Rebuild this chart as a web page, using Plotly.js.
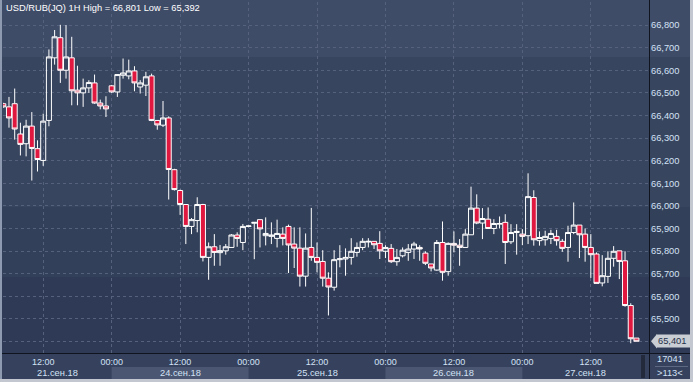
<!DOCTYPE html>
<html>
<head>
<meta charset="utf-8">
<script src="https://cdn.plot.ly/plotly-3.0.1.min.js"></script>
<style>
html,body{margin:0;padding:0;background:#c3c7cf;}
#wrap{position:absolute;left:0;top:0;width:690px;height:379px;
background:linear-gradient(to bottom,#3f4c68 0px,#3f4c68 57px,#38455f 57px,#38455f 207px,#334059 207px,#334059 277px,#2f3b56 277px,#2f3b56 353px,#36425d 353px,#36425d 379px);}
#chart{width:690px;height:379px;}
</style>
</head>
<body>
<div id="wrap"><div id="chart"></div></div>
<script>
// ---- data (USD/RUB 1H) ----
const sessions = [
  {date:'2018-09-21', from:5, to:23},
  {date:'2018-09-24', from:0, to:23},
  {date:'2018-09-25', from:0, to:23},
  {date:'2018-09-26', from:0, to:23},
  {date:'2018-09-27', from:0, to:20}
];
const dayLabels = ['21.сен.18','24.сен.18','25.сен.18','26.сен.18','27.сен.18'];
const yTickVals = [65.4,65.5,65.6,65.7,65.8,65.9,66.0,66.1,66.2,66.3,66.4,66.5,66.6,66.7,66.8];
const yTickText = ['','65,500','65,600','65,700','65,800','65,900','66,000','66,100','66,200','66,300','66,400','66,500','66,600','66,700','66,800'];
const xTickHours = ['12:00','00:00'];

const open = [66.452,66.438,66.452,66.318,66.275,66.353,66.253,66.201,66.378,66.655,
66.744,66.600,66.655,66.512,66.500,66.522,66.544,66.455,66.442,66.531,
66.504,66.578,66.575,66.597,66.526,66.534,66.575,66.378,66.357,66.389,
66.160,66.068,66.006,65.909,65.935,66.006,65.772,65.819,65.793,65.801,
65.816,65.871,65.838,65.909,65.923,65.939,65.868,65.865,65.856,65.875,
65.909,65.831,65.813,65.689,65.816,65.772,65.754,65.680,65.640,65.762,
65.765,65.772,65.794,65.816,65.840,65.843,65.834,65.799,65.812,65.753,
65.779,65.794,65.809,65.816,65.791,65.743,65.716,65.838,65.709,65.834,
65.826,65.816,65.872,65.990,65.924,65.941,65.900,65.919,65.927,65.841,
65.882,65.875,65.868,66.037,65.846,65.850,65.856,65.865,65.843,65.816,
65.882,65.915,65.875,65.816,65.787,65.659,65.688,65.768,65.801,65.757,
65.559,65.415];
const high = [66.456,66.482,66.519,66.368,66.381,66.415,66.290,66.408,66.692,66.778,
66.801,66.800,66.748,66.620,66.563,66.556,66.581,66.470,66.485,66.535,
66.583,66.652,66.647,66.618,66.556,66.593,66.585,66.378,66.464,66.396,
66.164,66.072,66.006,65.946,66.038,66.009,65.838,65.875,65.827,65.831,
65.875,65.883,65.920,65.913,65.927,65.939,65.949,65.927,65.939,65.905,
65.917,65.905,65.905,65.878,65.991,65.838,65.804,65.706,65.804,65.826,
65.812,65.857,65.838,65.857,65.857,65.843,65.888,65.826,65.831,65.809,
65.816,65.831,65.841,65.826,65.799,65.743,65.849,65.931,65.838,65.887,
65.853,65.897,66.085,66.051,65.990,65.993,65.941,65.953,65.963,65.919,
65.919,65.897,66.144,66.069,65.887,65.890,65.894,65.894,65.853,65.912,
66.015,65.915,65.900,65.875,65.794,65.782,65.799,65.822,65.801,65.799,
65.569,65.415];
const low = [66.434,66.346,66.293,66.223,66.219,66.112,66.152,66.177,66.352,66.625,
66.544,66.563,66.445,66.445,66.438,66.500,66.452,66.427,66.393,66.500,
66.482,66.563,66.560,66.507,66.497,66.486,66.375,66.337,66.349,66.028,
66.068,65.960,65.831,65.875,65.883,65.754,65.673,65.735,65.735,65.784,
65.816,65.819,65.804,65.905,65.764,65.816,65.825,65.831,65.816,65.825,
65.703,65.725,65.643,65.643,65.757,65.706,65.643,65.515,65.625,65.728,
65.691,65.740,65.775,65.804,65.816,65.809,65.765,65.769,65.747,65.735,
65.772,65.757,65.765,65.757,65.738,65.710,65.713,65.669,65.691,65.794,
65.735,65.816,65.872,65.919,65.853,65.900,65.875,65.900,65.743,65.831,
65.784,65.826,65.831,65.824,65.824,65.824,65.831,65.824,65.797,65.753,
65.875,65.769,65.753,65.681,65.657,65.644,65.659,65.731,65.676,65.554,
65.392,65.401];
const close = [66.438,66.389,66.340,66.272,66.353,66.254,66.205,66.375,66.659,66.748,
66.600,66.659,66.509,66.500,66.522,66.546,66.455,66.442,66.429,66.504,
66.581,66.588,66.597,66.544,66.544,66.571,66.378,66.358,66.389,66.161,
66.072,66.006,65.909,65.939,66.006,65.772,65.819,65.794,65.802,65.819,
65.871,65.856,65.909,65.911,65.927,65.898,65.878,65.871,65.878,65.856,
65.827,65.813,65.689,65.813,65.772,65.750,65.680,65.641,65.762,65.766,
65.772,65.799,65.816,65.843,65.843,65.828,65.801,65.816,65.753,65.772,
65.804,65.809,65.831,65.809,65.746,65.725,65.838,65.706,65.834,65.826,
65.816,65.875,65.990,65.924,65.944,65.900,65.922,65.922,65.838,65.882,
65.887,65.865,66.041,65.850,65.860,65.865,65.878,65.846,65.812,65.882,
65.915,65.872,65.816,65.784,65.657,65.691,65.768,65.799,65.754,65.559,
65.412,65.401];

// ---- categories (hourly bars, weekend skipped) ----
const times = [];
const hours = [];
const dayStart = [];
sessions.forEach(s => {
  dayStart.push(times.length);
  for (let h = s.from; h <= s.to; h++) {
    times.push(s.date + ' ' + String(h).padStart(2,'0') + ':00');
    hours.push(h);
  }
});
const tickVals = [], tickText = [];
hours.forEach((h, i) => {
  if (h === 12) { tickVals.push(times[i]); tickText.push(xTickHours[0]); }
  if (h === 0)  { tickVals.push(times[i]); tickText.push(xTickHours[1]); }
});

// ---- layout geometry ----
const W = 690, H = 379, ML = 3, MR = 41, MT = 2, MB = 26;
const PW = W - ML - MR, PH = H - MT - MB;
const PX = p => (p - ML) / PW;
const PY = p => 1 - (p - MT) / PH;
const xr = [-0.05, 113.2];
const yr = [65.349, 66.902];

const axisFont = {family:'Liberation Sans, Arial, sans-serif', size:9.3, color:'#d3e1f5'};

const shapes = [];
const annotations = [];

// date row bands & labels
for (let d = 0; d < dayLabels.length; d++) {
  const a = d === 0 ? xr[0] : dayStart[d];
  const b = d + 1 < dayStart.length ? dayStart[d+1] : xr[1];
  if (d % 2 === 1) {
    shapes.push({type:'rect', xref:'x', yref:'paper', x0:a, x1:b, y0:PY(367), y1:PY(379),
      fillcolor:'#4b5772', line:{width:0}, layer:'below'});
  }
  annotations.push({xref:'x', yref:'paper', x:(Math.max(a,xr[0]) + Math.min(b,xr[1]))/2, y:PY(373),
    text:dayLabels[d], showarrow:false, xanchor:'center', yanchor:'middle',
    font:{family:axisFont.family, size:9.3, color:'#d3e1f5'}});
}

// separators, frame
shapes.push({type:'line', xref:'paper', yref:'paper', x0:PX(0), x1:PX(W), y0:PY(353.5), y1:PY(353.5), line:{color:'#10141f', width:1}});
shapes.push({type:'line', xref:'paper', yref:'paper', x0:PX(649.5), x1:PX(649.5), y0:PY(0), y1:PY(H), line:{color:'#10141f', width:1}});
shapes.push({type:'rect', xref:'paper', yref:'paper', x0:PX(0), x1:PX(2), y0:PY(0), y1:PY(H), fillcolor:'#8d9ab0', line:{width:0}});
shapes.push({type:'rect', xref:'paper', yref:'paper', x0:PX(641), x1:PX(645), y0:PY(355), y1:PY(378), fillcolor:'#232a3b', line:{width:0}});
shapes.push({type:'line', xref:'paper', yref:'paper', x0:PX(655), x1:PX(688), y0:PY(366.5), y1:PY(366.5), line:{color:'#5d6983', width:1}});

// last price tag
const last = close[close.length-1];
shapes.push({type:'path', xref:'paper', yref:'y',
  path:'M '+PX(657)+','+(last+0.032)+' L '+PX(651)+','+last+' L '+PX(657)+','+(last-0.032)+' Z',
  fillcolor:'#c9cdd4', line:{width:0}});
annotations.push({xref:'paper', yref:'y', x:PX(656), y:last, xanchor:'left', yanchor:'middle',
  text:'65,401', showarrow:false, bgcolor:'#c9cdd4', borderpad:1, width:31, align:'left',
  font:{family:axisFont.family, size:9.3, color:'#243049'}});

// title and corner info
annotations.push({xref:'paper', yref:'paper', x:PX(4), y:PY(8), xanchor:'left', yanchor:'middle',
  text:'USD/RUB(JQ) 1H High = 66,801 Low = 65,392', showarrow:false,
  font:{family:axisFont.family, size:9.3, color:'#ffffff'}});
annotations.push({xref:'paper', yref:'paper', x:PX(670), y:PY(359), xanchor:'center', yanchor:'middle',
  text:'17041', showarrow:false, font:axisFont});
annotations.push({xref:'paper', yref:'paper', x:PX(670), y:PY(373), xanchor:'center', yanchor:'middle',
  text:'&gt;113&lt;', showarrow:false, font:axisFont});

const trace = {
  type:'candlestick', x:times, open:open, high:high, low:low, close:close,
  increasing:{line:{color:'#ffffff', width:1}, fillcolor:'rgba(0,0,0,0)'},
  decreasing:{line:{color:'#ffffff', width:1}, fillcolor:'#e0173f'},
  whiskerwidth:0, hoverinfo:'skip', showlegend:false
};

const layout = {
  width:W, height:H,
  margin:{l:ML, r:MR, t:MT, b:MB, pad:0},
  paper_bgcolor:'rgba(0,0,0,0)', plot_bgcolor:'rgba(0,0,0,0)',
  boxgap:0.12, boxgroupgap:0,
  showlegend:false,
  xaxis:{type:'category', range:xr, rangeslider:{visible:false},
    tickvals:tickVals, ticktext:tickText, ticks:'', showline:false, zeroline:false,
    showgrid:true, gridcolor:'#56627d', griddash:'3px,3px', gridwidth:1, ticklabelstandoff:2,
    tickfont:{family:axisFont.family, size:9, color:'#d3e1f5'}, tickangle:0, automargin:false},
  yaxis:{side:'right', range:yr, tickvals:yTickVals, ticktext:yTickText, ticks:'',
    showline:false, zeroline:false, showgrid:true, gridcolor:'#56627d', griddash:'3px,3px', gridwidth:1,
    ticklabelstandoff:1, tickfont:axisFont, automargin:false},
  shapes:shapes, annotations:annotations
};

Plotly.newPlot('chart', [trace], layout, {staticPlot:true, displayModeBar:false});
</script>
</body>
</html>
